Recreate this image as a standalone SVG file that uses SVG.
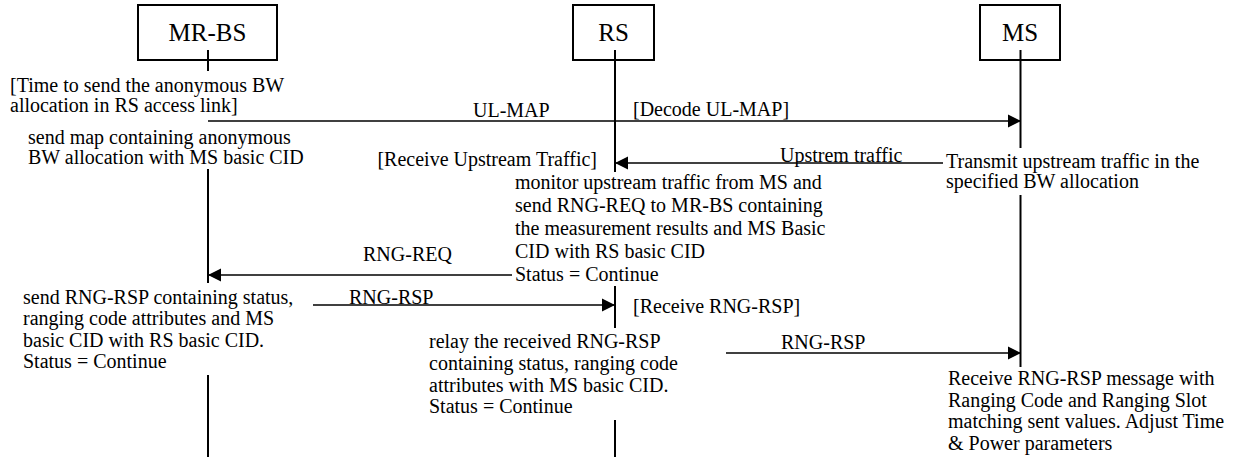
<svg xmlns="http://www.w3.org/2000/svg" width="1237" height="461" viewBox="0 0 1237 461">
<style>
text{font-family:"Liberation Serif","Times New Roman",serif;fill:#000}
.t{font-size:20px}
.h{font-size:25px;text-anchor:middle}
.box{fill:#fff;stroke:#000;stroke-width:2}
.life{stroke:#000;stroke-width:2}
.msg{stroke:#000;stroke-width:1.6;fill:none}
</style>
<defs>
<marker id="ah" markerUnits="userSpaceOnUse" markerWidth="14" markerHeight="14" viewBox="0 0 14 14" refX="13" refY="7" orient="auto">
<path d="M0,0.5 L13,7 L0,13.5 Z" fill="#000"/>
</marker>
</defs>
<rect width="1237" height="461" fill="#fff"/>
<g id="mrbs">
<rect class="box" x="138" y="5" width="139" height="55"/>
<text class="h" x="207.5" y="41">MR-BS</text>
<line class="life" x1="208" y1="50" x2="208" y2="71"/>
<line class="life" x1="208" y1="169" x2="208" y2="283"/>
<line class="life" x1="208" y1="375" x2="208" y2="457"/>
<text class="t" x="10" y="92">[Time to send the anonymous BW</text>
<text class="t" x="10" y="112">allocation in RS access link]</text>
<text class="t" x="28" y="144">send map containing anonymous</text>
<text class="t" x="28" y="164">BW allocation with MS basic CID</text>
<text class="t" x="23" y="304">send RNG-RSP containing status,</text>
<text class="t" x="23" y="325">ranging code attributes and MS</text>
<text class="t" x="23" y="347">basic CID with RS basic CID.</text>
<text class="t" x="23" y="368">Status = Continue</text>
</g>
<g id="rs">
<rect class="box" x="573" y="5" width="81" height="55"/>
<text class="h" x="613.5" y="41">RS</text>
<line class="life" x1="615" y1="50" x2="615" y2="172"/>
<line class="life" x1="615" y1="286" x2="615" y2="328"/>
<line class="life" x1="615" y1="420" x2="615" y2="457"/>
<text class="t" x="597" y="166" text-anchor="end">[Receive Upstream Traffic]</text>
<text class="t" x="515" y="189">monitor upstream traffic from MS and</text>
<text class="t" x="515" y="212">send RNG-REQ to MR-BS containing</text>
<text class="t" x="515" y="235">the measurement results and MS Basic</text>
<text class="t" x="515" y="258">CID with RS basic CID</text>
<text class="t" x="515" y="281">Status = Continue</text>
<text class="t" x="633" y="313">[Receive RNG-RSP]</text>
<text class="t" x="429" y="348">relay the received RNG-RSP</text>
<text class="t" x="429" y="370">containing status, ranging code</text>
<text class="t" x="429" y="392">attributes with MS basic CID.</text>
<text class="t" x="429" y="413">Status = Continue</text>
</g>
<g id="ms">
<rect class="box" x="980" y="5" width="80" height="55"/>
<text class="h" x="1020" y="41">MS</text>
<line class="life" x1="1020.5" y1="50" x2="1020.5" y2="148"/>
<line class="life" x1="1020.5" y1="195" x2="1020.5" y2="367"/>
<text class="t" x="946" y="168">Transmit upstream traffic in the</text>
<text class="t" x="946" y="188">specified BW allocation</text>
<text class="t" x="948" y="385">Receive RNG-RSP message with</text>
<text class="t" x="948" y="407">Ranging Code and Ranging Slot</text>
<text class="t" x="948" y="428">matching sent values. Adjust Time</text>
<text class="t" x="948" y="450">&amp; Power parameters</text>
</g>
<g id="connectors">
<line class="msg" x1="208" y1="121" x2="1021" y2="121" marker-end="url(#ah)"/>
<text class="t" x="473" y="117">UL-MAP</text>
<text class="t" x="633" y="116">[Decode UL-MAP]</text>
<line class="msg" x1="943" y1="163" x2="615" y2="163" marker-end="url(#ah)"/>
<text class="t" x="780" y="162">Upstrem traffic</text>
<line class="msg" x1="512" y1="275" x2="208" y2="275" marker-end="url(#ah)"/>
<text class="t" x="363" y="261">RNG-REQ</text>
<line class="msg" x1="313" y1="305" x2="615" y2="305" marker-end="url(#ah)"/>
<text class="t" x="349" y="304">RNG-RSP</text>
<line class="msg" x1="726" y1="353" x2="1021" y2="353" marker-end="url(#ah)"/>
<text class="t" x="781" y="349">RNG-RSP</text>
</g>
</svg>
